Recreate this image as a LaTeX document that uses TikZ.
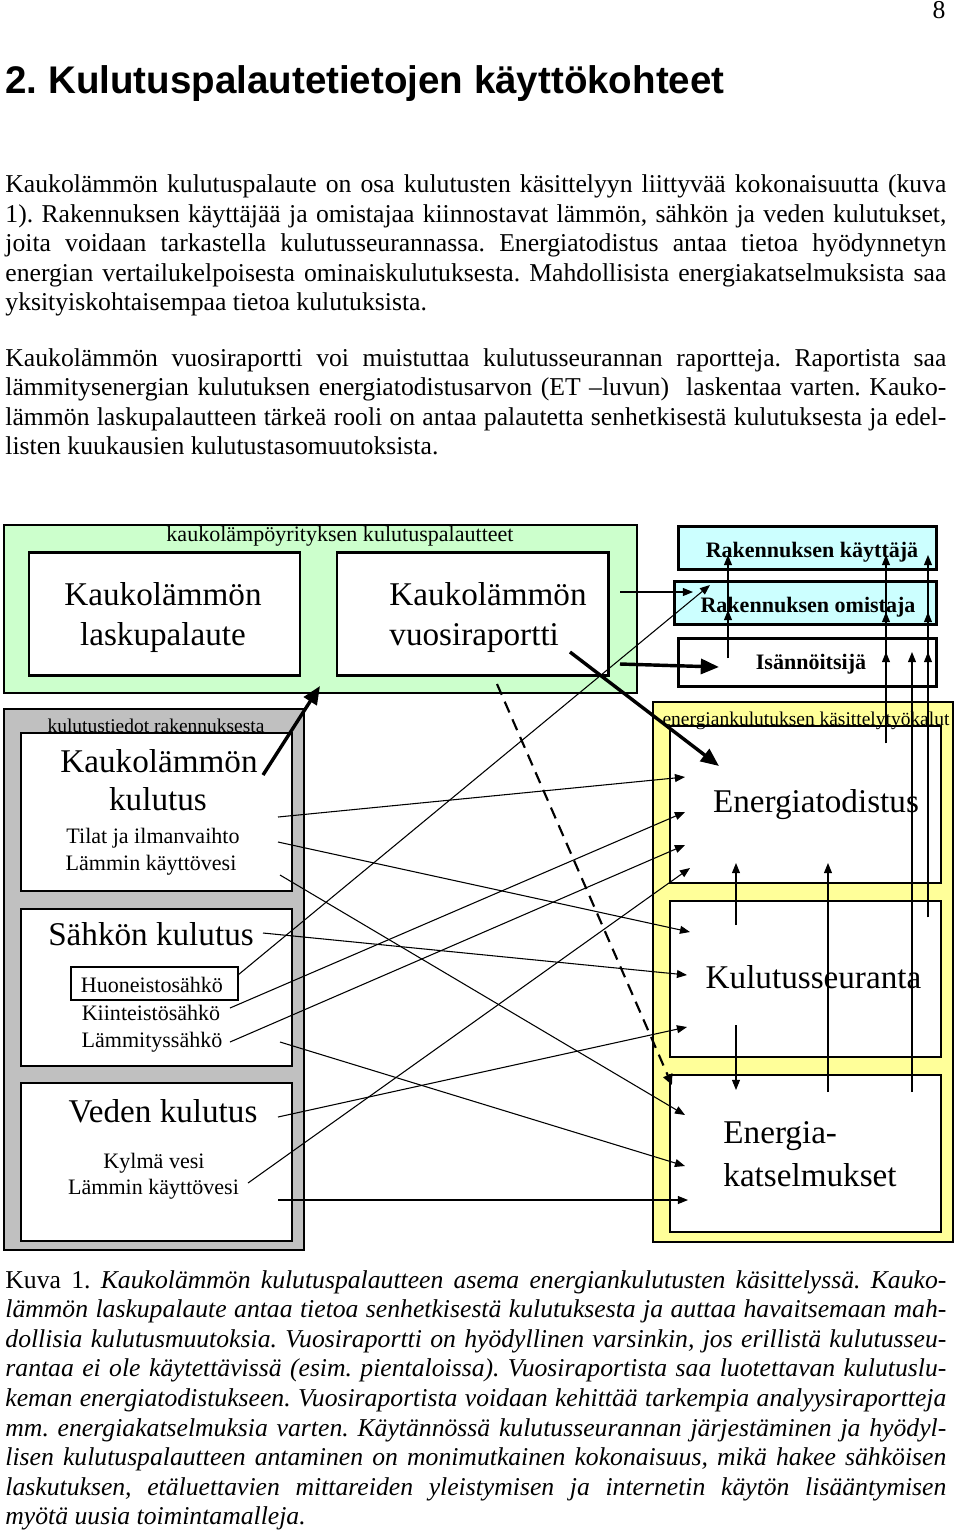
\documentclass[tikz,border=0pt]{standalone}
\usepackage{fontspec}
\setmainfont{Liberation Serif}
\newfontfamily\headfont{Liberation Sans}
\usetikzlibrary{arrows.meta}
\frenchspacing
\definecolor{kaukogreen}{RGB}{204,255,204}
\definecolor{rakcyan}{RGB}{204,255,255}
\definecolor{kulgray}{RGB}{192,192,192}
\definecolor{tyoyellow}{RGB}{255,255,153}
\newlength\tw \setlength\tw{439.7pt}
\newcommand\jline[3]{\node[anchor=base west] (#1) at (5,#2) {\makebox[\tw][s]{#3}};}
\newcommand\lline[3]{\node[anchor=base west] (#1) at (5,#2) {#3};}

\begin{document}
\begin{tikzpicture}[x=0.4673pt,y=-0.4673pt,
    every node/.style={inner sep=0pt,font=\fontsize{12}{14}\selectfont},
    big/.style={font=\fontsize{15.5}{18}\selectfont,anchor=base},
    mid/.style={font=\fontsize{10.3}{12}\selectfont,anchor=base},
    pieni/.style={font=\fontsize{9.1}{11}\selectfont,anchor=base},
    lab/.style={font=\fontsize{10.3}{12}\selectfont\bfseries,anchor=base},
    frame/.style={draw,line width=0.5pt},
    ibox/.style={draw,fill=white,line width=1pt},
    tbox/.style={draw,line width=1.4pt},
    pil/.style={-{Triangle[length=4.7pt,width=3.7pt]},line width=0.5pt},
    paksu/.style={-{Triangle[length=8.5pt,width=7pt]},line width=1.6pt},
    katko/.style={-{Triangle[length=5pt,width=4.5pt]},line width=1pt,dash pattern=on 5.5pt off 3.5pt}]
  \fill[white] (0,0) rectangle (960,1533);
  \useasboundingbox (0,0) rectangle (960,1533);
  \node[anchor=base east] (sivu) at (946,18) {8};
  \node[anchor=base west,font=\headfont\bfseries\fontsize{18}{22}\selectfont] (otsikko) at (5,93)
    {2. Kulutuspalautetietojen käyttökohteet};
  \jline{p1a}{192.5}{Kaukolämmön kulutuspalaute on osa kulutusten käsittelyyn liittyvää kokonaisuutta (kuva}
  \jline{p1b}{222}{1). Rakennuksen käyttäjää ja omistajaa kiinnostavat lämmön, sähkön ja veden kulutukset,}
  \jline{p1c}{251.6}{joita voidaan tarkastella kulutusseurannassa. Energiatodistus antaa tietoa hyödynnetyn}
  \jline{p1d}{281.2}{energian vertailukelpoisesta ominaiskulutuksesta. Mahdollisista energiakatselmuksista saa}
  \lline{p1e}{310.8}{yksityiskohtaisempaa tietoa kulutuksista.}
  \jline{p2a}{366}{Kaukolämmön vuosiraportti voi muistuttaa kulutusseurannan raportteja. Raportista saa}
  \jline{p2b}{395.6}{lämmitysenergian kulutuksen energiatodistusarvon (ET –luvun)\ \ laskentaa varten. Kauko-}
  \jline{p2c}{425.2}{lämmön laskupalautteen tärkeä rooli on antaa palautetta senhetkisestä kulutuksesta ja edel-}
  \lline{p2d}{454.8}{listen kuukausien kulutustasomuutoksista.}

  % kuva 1
  \draw[frame,fill=kaukogreen] (4,525) rectangle (637,693);
  \draw[tbox,fill=white] (29,552) rectangle (300,675);
  \draw[tbox,fill=white] (337,552) rectangle (608,675);
  \draw[tbox,fill=rakcyan] (678,526) rectangle (936,569);
  \draw[tbox,fill=rakcyan] (674,581) rectangle (936,624);
  \draw[tbox,fill=white] (678,638) rectangle (936,686);
  \draw[frame,fill=kulgray] (4,709) rectangle (304,1250);
  \draw[ibox] (21,733) rectangle (292,891);
  \draw[ibox] (21,909) rectangle (292,1066);
  \draw[ibox] (21,1083) rectangle (292,1241);
  \draw[frame] (71,967) rectangle (238,1000);
  \draw[frame,fill=tyoyellow] (653,702) rectangle (953,1242);
  \draw[ibox] (670,726) rectangle (941,883);
  \draw[ibox] (670,901) rectangle (941,1057);
  \draw[ibox] (670,1075) rectangle (941,1232);

  \node[mid] (yritys) at (340,541) {kaukolämpöyrityksen kulutuspalautteet};
  \node[big] (lasku1) at (163,605) {Kaukolämmön};
  \node[big] (lasku2) at (163,645) {laskupalaute};
  \node[big,anchor=base west] (vuosi1) at (389,605) {Kaukolämmön};
  \node[big,anchor=base west] (vuosi2) at (389,645) {vuosiraportti};
  \node[lab] (kayttaja) at (812,557) {Rakennuksen käyttäjä};
  \node[lab] (omistaja) at (808,612) {Rakennuksen omistaja};
  \node[lab] (isannoitsija) at (811,669) {Isännöitsijä};
  \node[pieni] (tiedot) at (156,732) {kulutustiedot rakennuksesta};
  \node[big] (klk1) at (159,772) {Kaukolämmön};
  \node[big] (klk2) at (158,810) {kulutus};
  \node[mid] (tilat) at (153,843) {Tilat ja ilmanvaihto};
  \node[mid] (lkv1) at (151,870) {Lämmin käyttövesi};
  \node[big] (sahko) at (151,945) {Sähkön kulutus};
  \node[mid] (huone) at (152,992) {Huoneistosähkö};
  \node[mid] (kiint) at (151,1020) {Kiinteistösähkö};
  \node[mid] (lammsa) at (152,1047) {Lämmityssähkö};
  \node[big] (vesi) at (163,1122) {Veden kulutus};
  \node[mid] (kylma) at (154,1168) {Kylmä vesi};
  \node[mid] (lkv2) at (153.5,1194) {Lämmin käyttövesi};
  \node[pieni] (tyokalut) at (806,725) {energiankulutuksen käsittelytyökalut};
  \node[big] (etodistus) at (816,812) {Energiatodistus};
  \node[big] (kseuranta) at (813.5,988) {Kulutusseuranta};
  \node[big,anchor=base west] (ekats1) at (723,1143) {Energia-};
  \node[big,anchor=base west] (ekats2) at (723,1186) {katselmukset};

  \coordinate (klk) at (263,775);  \coordinate (vihr) at (320,686);
  \coordinate (vrs) at (570,652);  \coordinate (etd) at (719,766);
  \coordinate (vri) at (620,664);  \coordinate (isa) at (719,667);
  \coordinate (vro) at (620,592);  \coordinate (omi) at (693,592);
  \coordinate (huo) at (238,975);  \coordinate (omi2) at (710,585);
  \coordinate (isu) at (728,658);  \coordinate (omv) at (728,610);  \coordinate (kav) at (728,555);
  \coordinate (etu) at (886,743);  \coordinate (isv2) at (886,652); \coordinate (omv2) at (886,612); \coordinate (kav2) at (886,555);
  \coordinate (eku) at (912,1092); \coordinate (isv3) at (912,652);
  \coordinate (kuu) at (928,917);  \coordinate (isv4) at (928,652); \coordinate (omv4) at (928,612); \coordinate (kav4) at (928,555);
  \coordinate (eka) at (828,1092); \coordinate (eta) at (828,863);
  \coordinate (kua) at (736,925);  \coordinate (eta2) at (736,863);
  \coordinate (kub) at (736,1025); \coordinate (ekb) at (736,1090);
  \coordinate (vrd) at (497,684);  \coordinate (ekd) at (672,1085);
  \coordinate (kl1) at (278,817);  \coordinate (et1) at (685,777);
  \coordinate (kl2) at (278,842);  \coordinate (ks1) at (690,932);
  \coordinate (kl3) at (280,875);  \coordinate (ek1) at (685,1115);
  \coordinate (sa0) at (263,933);  \coordinate (ks2) at (687,975);
  \coordinate (sa2) at (230,1008); \coordinate (et2) at (685,812);
  \coordinate (sa3) at (230,1042); \coordinate (et3) at (685,845);
  \coordinate (sa4) at (280,1042); \coordinate (ek2) at (685,1166);
  \coordinate (ve1) at (278,1117); \coordinate (ks3) at (687,1027);
  \coordinate (ve2) at (248,1183); \coordinate (et4) at (690,868);
  \coordinate (ve3) at (278,1200); \coordinate (ek3) at (688,1200);

  \draw[paksu] (klk) -- (vihr);
  \draw[paksu] (vrs) -- (etd);
  \draw[paksu] (vri) -- (isa);
  \draw[pil] (vro) -- (omi);
  \draw[pil] (huo) -- (omi2);
  \foreach \a in {omv,kav} \draw[pil] (isu) -- (\a);
  \foreach \a in {isv2,omv2,kav2} \draw[pil] (etu) -- (\a);
  \draw[pil] (eku) -- (isv3);
  \foreach \a in {isv4,omv4,kav4} \draw[pil] (kuu) -- (\a);
  \draw[pil] (eka) -- (eta);
  \draw[pil] (kua) -- (eta2);
  \draw[pil] (kub) -- (ekb);
  \draw[katko] (vrd) -- (ekd);
  \foreach \a/\b in {kl1/et1,kl2/ks1,kl3/ek1,sa0/ks2,sa2/et2,sa3/et3,sa4/ek2,ve1/ks3,ve2/et4,ve3/ek3}
    \draw[pil] (\a) -- (\b);

  \jline{c1}{1288}{Kuva 1. \itshape Kaukolämmön kulutuspalautteen asema energiankulutusten käsittelyssä. Kauko-}
  \jline{c2}{1317.6}{\itshape lämmön laskupalaute antaa tietoa senhetkisestä kulutuksesta ja auttaa havaitsemaan mah-}
  \jline{c3}{1347.2}{\itshape dollisia kulutusmuutoksia. Vuosiraportti on hyödyllinen varsinkin, jos erillistä kulutusseu-}
  \jline{c4}{1376.8}{\itshape rantaa ei ole käytettävissä (esim. pientaloissa). Vuosiraportista saa luotettavan kulutuslu-}
  \jline{c5}{1406.4}{\itshape keman energiatodistukseen. Vuosiraportista voidaan kehittää tarkempia analyysiraportteja}
  \jline{c6}{1436}{\itshape mm. energiakatselmuksia varten. Käytännössä kulutusseurannan järjestäminen ja hyödyl-}
  \jline{c7}{1465.6}{\itshape lisen kulutuspalautteen antaminen on monimutkainen kokonaisuus, mikä hakee sähköisen}
  \jline{c8}{1495.2}{\itshape laskutuksen, etäluettavien mittareiden yleistymisen ja internetin käytön lisääntymisen}
  \lline{c9}{1524.8}{\itshape myötä uusia toimintamalleja.}
\end{tikzpicture}
\end{document}
